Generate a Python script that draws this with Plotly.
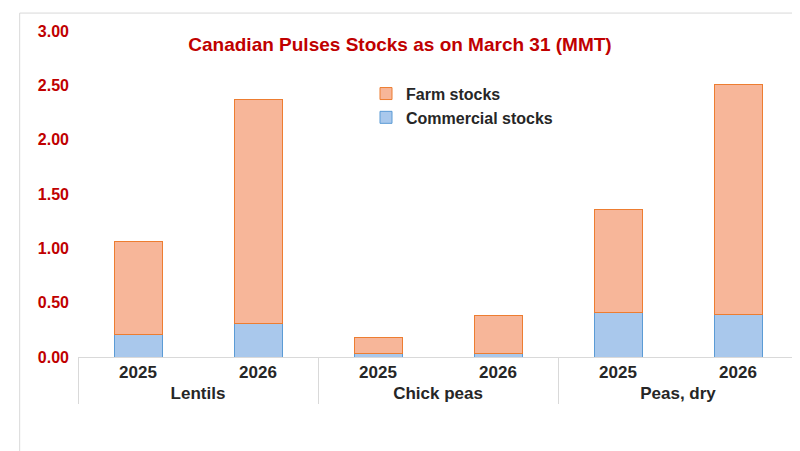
import plotly.graph_objects as go

groups = ["Lentils", "Lentils", "Chick peas", "Chick peas", "Peas, dry", "Peas, dry"]
years = ["2025", "2026", "2025", "2026", "2025", "2026"]
commercial = [0.21, 0.31, 0.03, 0.03, 0.41, 0.39]
farm = [0.85, 2.06, 0.15, 0.35, 0.95, 2.12]

fig = go.Figure()
fig.add_bar(x=[groups, years], y=commercial, name="Commercial stocks",
            marker=dict(color="#A9C8EC", line=dict(color="#5B9BD5", width=1)), width=0.4)
fig.add_bar(x=[groups, years], y=farm, name="Farm stocks",
            marker=dict(color="#F7B699", line=dict(color="#ED7D31", width=1)), width=0.4)

fig.update_layout(
    width=800, height=451, barmode="stack",
    paper_bgcolor="white", plot_bgcolor="white",
    font=dict(family="Liberation Sans, Arial", size=16, color="#262626", weight="bold"),
    title=dict(text="Canadian Pulses Stocks as on March 31 (MMT)", x=0.49, y=0.935,
               font=dict(size=19, color="#C00000", weight="bold")),
    margin=dict(l=70, r=10, t=23, b=102),
    legend=dict(x=0.40, y=0.86, traceorder="reversed", bgcolor="rgba(0,0,0,0)",
                font=dict(size=16, color="#262626"), tracegroupgap=28),
    shapes=[dict(type="rect", xref="paper", yref="paper", x0=-0.081, x1=1.0, y0=-0.30, y1=1.055,
                 line=dict(color="#D9D9D9", width=1))],
)
fig.update_yaxes(range=[0, 3.0], tickvals=[0, 0.5, 1, 1.5, 2, 2.5, 3], tickformat=".2f",
                 showgrid=False, zeroline=False, showline=False, ticklabelstandoff=8,
                 tickfont=dict(color="#C00000", size=16, weight="bold"))
fig.update_xaxes(showline=True, linecolor="#D9D9D9", showdividers=True, dividercolor="#D9D9D9",
                 dividerwidth=1, tickfont=dict(size=17, color="#262626", weight="bold"))
fig.write_html("out.html")
